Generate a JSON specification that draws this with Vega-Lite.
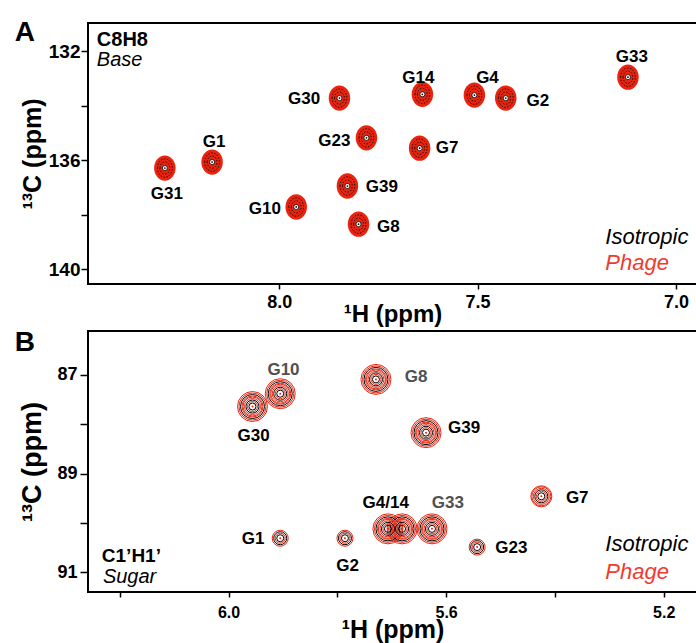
{
  "$schema": "https://vega.github.io/schema/vega-lite/v6.json",
  "background": "white",
  "padding": {"left": 13, "top": 18, "right": 0, "bottom": 0},
  "spacing": 0,
  "config": {
    "view": {"stroke": "black", "strokeWidth": 2},
    "axis": {"domain": false, "grid": false, "tickColor": "black", "tickWidth": 1.5, "labelColor": "black", "titleColor": "black", "labelFont": "Liberation Sans", "titleFont": "Liberation Sans", "labelFontWeight": "bold", "titleFontWeight": "bold"},
    "text": {"font": "Liberation Sans"}
  },
  "datasets": {
    "peaksA": [
      {"peak": "G31", "h": 8.288, "c": 136.29},
      {"peak": "G1", "h": 8.169, "c": 136.07},
      {"peak": "G10", "h": 7.957, "c": 137.72},
      {"peak": "G30", "h": 7.848, "c": 133.72},
      {"peak": "G23", "h": 7.780, "c": 135.18},
      {"peak": "G39", "h": 7.828, "c": 136.95},
      {"peak": "G8", "h": 7.800, "c": 138.35},
      {"peak": "G14", "h": 7.639, "c": 133.58},
      {"peak": "G7", "h": 7.646, "c": 135.56},
      {"peak": "G4", "h": 7.508, "c": 133.61},
      {"peak": "G2", "h": 7.429, "c": 133.72},
      {"peak": "G33", "h": 7.121, "c": 132.95}
    ],
    "labelsA": [
      {"label": "G31", "h": 8.283, "c": 137.25},
      {"label": "G1", "h": 8.164, "c": 135.33},
      {"label": "G10", "h": 8.036, "c": 137.81},
      {"label": "G30", "h": 7.937, "c": 133.77},
      {"label": "G23", "h": 7.861, "c": 135.30},
      {"label": "G39", "h": 7.741, "c": 136.97},
      {"label": "G8", "h": 7.725, "c": 138.47},
      {"label": "G14", "h": 7.649, "c": 132.98},
      {"label": "G7", "h": 7.577, "c": 135.55},
      {"label": "G4", "h": 7.475, "c": 132.98},
      {"label": "G2", "h": 7.348, "c": 133.83},
      {"label": "G33", "h": 7.111, "c": 132.21}
    ],
    "peaksB": [
      {"peak": "G30", "h": 5.956, "c": 87.64, "intensity": 3},
      {"peak": "G10", "h": 5.905, "c": 87.38, "intensity": 3},
      {"peak": "G1", "h": 5.905, "c": 90.31, "intensity": 1},
      {"peak": "G2", "h": 5.786, "c": 90.31, "intensity": 1},
      {"peak": "G8", "h": 5.729, "c": 87.09, "intensity": 3},
      {"peak": "G39", "h": 5.637, "c": 88.17, "intensity": 3},
      {"peak": "G4", "h": 5.707, "c": 90.12, "intensity": 3},
      {"peak": "G14", "h": 5.681, "c": 90.12, "intensity": 3},
      {"peak": "G33", "h": 5.626, "c": 90.12, "intensity": 3},
      {"peak": "G23", "h": 5.543, "c": 90.49, "intensity": 1},
      {"peak": "G7", "h": 5.425, "c": 89.46, "intensity": 2}
    ],
    "labelsB": [
      {"label": "G10", "h": 5.899, "c": 86.905, "tone": "muted"},
      {"label": "G30", "h": 5.954, "c": 88.24, "tone": "normal"},
      {"label": "G1", "h": 5.955, "c": 90.33, "tone": "normal"},
      {"label": "G2", "h": 5.781, "c": 90.87, "tone": "normal"},
      {"label": "G8", "h": 5.655, "c": 87.05, "tone": "muted"},
      {"label": "G39", "h": 5.567, "c": 88.08, "tone": "normal"},
      {"label": "G4/14", "h": 5.711, "c": 89.60, "tone": "normal"},
      {"label": "G33", "h": 5.597, "c": 89.60, "tone": "muted"},
      {"label": "G23", "h": 5.480, "c": 90.51, "tone": "normal"},
      {"label": "G7", "h": 5.359, "c": 89.50, "tone": "normal"}
    ]
  },
  "vconcat": [
    {
      "width": 609,
      "height": 261,
      "encoding": {
        "x": {"field": "h", "type": "quantitative", "scale": {"domain": [6.947, 8.4817], "reverse": true, "nice": false, "zero": false},
              "axis": {"values": [8.0, 7.5, 7.0], "format": ".1f", "title": "¹H (ppm)", "titleFontSize": 24, "titleY": 18, "labelFontSize": 18, "tickSize": 5, "labelPadding": 4}},
        "y": {"field": "c", "type": "quantitative", "scale": {"domain": [130.96, 140.55], "reverse": true, "nice": false, "zero": false},
              "axis": {"values": [132, 134, 136, 138, 140], "labelExpr": "datum.value % 4 == 0 ? datum.label : ''", "title": "¹³C (ppm)", "titleFontSize": 25, "titleX": -43, "labelFontSize": 19, "tickSize": 7, "labelPadding": 1}}
      },
      "layer": [
        {"data": {"name": "peaksA"}, "mark": {"type": "point", "shape": "M-0.85,0A0.85,1,0,1,1,0.85,0A0.85,1,0,1,1,-0.85,0Z", "size": 640, "filled": true, "color": "#e8240f", "strokeWidth": 0, "opacity": 1}},
        {"data": {"name": "peaksA"}, "mark": {"type": "point", "shape": "M-0.8,0A0.8,1,0,1,1,0.8,0A0.8,1,0,1,1,-0.8,0Z", "size": 340, "filled": false, "color": "black", "strokeWidth": 0.8, "strokeDash": [1.5, 1.5], "opacity": 1}},
        {"data": {"name": "peaksA"}, "mark": {"type": "point", "shape": "M-0.8,0A0.8,1,0,1,1,0.8,0A0.8,1,0,1,1,-0.8,0Z", "size": 150, "filled": false, "color": "black", "strokeWidth": 0.8, "strokeDash": [1.5, 1.5], "opacity": 1}},
        {"data": {"name": "peaksA"}, "mark": {"type": "point", "shape": "circle", "size": 26, "filled": true, "fill": "white", "stroke": "black", "strokeWidth": 0.8, "opacity": 1}},
        {"data": {"name": "peaksA"}, "mark": {"type": "point", "shape": "circle", "size": 3, "filled": true, "color": "black", "opacity": 1}},
        {"data": {"name": "labelsA"}, "mark": {"type": "text", "fontSize": 17, "fontWeight": "bold", "color": "black"}, "encoding": {"text": {"field": "label"}}},
        {"data": {"values": [{"t": "A", "h": 8.666, "c": 130.82}]}, "mark": {"type": "text", "fontSize": 28, "fontWeight": "bold", "align": "left", "baseline": "top", "color": "black"}, "encoding": {"text": {"field": "t"}}},
        {"data": {"values": [{"t": "C8H8", "h": 8.4595, "c": 131.79}]}, "mark": {"type": "text", "fontSize": 20, "fontWeight": "bold", "align": "left", "baseline": "alphabetic", "color": "black"}, "encoding": {"text": {"field": "t"}}},
        {"data": {"values": [{"t": "Base", "h": 8.4595, "c": 132.55}]}, "mark": {"type": "text", "fontSize": 20, "fontStyle": "italic", "align": "left", "baseline": "alphabetic", "color": "black"}, "encoding": {"text": {"field": "t"}}},
        {"data": {"values": [{"t": "Isotropic", "h": 7.178, "c": 139.07}]}, "mark": {"type": "text", "fontSize": 22, "fontStyle": "italic", "align": "left", "baseline": "alphabetic", "color": "black"}, "encoding": {"text": {"field": "t"}}},
        {"data": {"values": [{"t": "Phage", "h": 7.178, "c": 140.04}]}, "mark": {"type": "text", "fontSize": 22, "fontStyle": "italic", "align": "left", "baseline": "alphabetic", "color": "#f03a2e"}, "encoding": {"text": {"field": "t"}}}
      ]
    },
    {
      "width": 609,
      "height": 261,
      "encoding": {
        "x": {"field": "h", "type": "quantitative", "scale": {"domain": [5.1388, 6.2584], "reverse": true, "nice": false, "zero": false},
              "axis": {"values": [6.2, 6.0, 5.8, 5.6, 5.4, 5.2], "format": ".1f", "labelExpr": "(datum.label == '6.0' || datum.label == '5.6' || datum.label == '5.2') ? datum.label : ''", "title": "¹H (ppm)", "titleFontSize": 25, "titleY": 25, "labelFontSize": 16, "tickSize": 5, "labelPadding": 7}},
        "y": {"field": "c", "type": "quantitative", "scale": {"domain": [86.109, 91.40], "reverse": true, "nice": false, "zero": false},
              "axis": {"values": [87, 88, 89, 90, 91], "labelExpr": "datum.value % 2 == 1 ? datum.label : ''", "title": "¹³C (ppm)", "titleFontSize": 27, "titleX": -42, "labelFontSize": 18, "tickSize": 8, "labelPadding": 3}}
      },
      "layer": [
        {"data": {"name": "peaksB"}, "transform": [{"filter": "datum.intensity >= 3"}], "mark": {"type": "point", "shape": "circle", "size": 900, "filled": false, "color": "#e8240f", "strokeWidth": 1, "opacity": 1}},
        {"data": {"name": "peaksB"}, "transform": [{"filter": "datum.intensity >= 3"}], "mark": {"type": "point", "shape": "circle", "size": 729, "filled": false, "color": "#e8240f", "strokeWidth": 1, "opacity": 1}},
        {"data": {"name": "peaksB"}, "transform": [{"filter": "datum.intensity >= 3"}], "mark": {"type": "point", "shape": "circle", "size": 576, "filled": false, "color": "black", "strokeWidth": 1, "opacity": 1}},
        {"data": {"name": "peaksB"}, "transform": [{"filter": "datum.intensity >= 2"}], "mark": {"type": "point", "shape": "circle", "size": 441, "filled": false, "color": "#e8240f", "strokeWidth": 1, "opacity": 1}},
        {"data": {"name": "peaksB"}, "transform": [{"filter": "datum.intensity >= 2"}], "mark": {"type": "point", "shape": "circle", "size": 361, "filled": false, "color": "#e8240f", "strokeWidth": 1, "opacity": 1}},
        {"data": {"name": "peaksB"}, "mark": {"type": "point", "shape": "circle", "size": 256, "filled": false, "color": "#e8240f", "strokeWidth": 1, "opacity": 1}},
        {"data": {"name": "peaksB"}, "mark": {"type": "point", "shape": "circle", "size": 169, "filled": false, "color": "black", "strokeWidth": 1, "opacity": 1}},
        {"data": {"name": "peaksB"}, "mark": {"type": "point", "shape": "circle", "size": 100, "filled": false, "color": "#e8240f", "strokeWidth": 1, "opacity": 1}},
        {"data": {"name": "peaksB"}, "mark": {"type": "point", "shape": "circle", "size": 49, "filled": false, "color": "black", "strokeWidth": 1, "opacity": 1}},
        {"data": {"name": "peaksB"}, "mark": {"type": "point", "shape": "circle", "size": 4, "filled": true, "color": "#e8240f", "opacity": 1}},
        {"data": {"name": "labelsB"}, "mark": {"type": "text", "fontSize": 17, "fontWeight": "bold"}, "encoding": {"text": {"field": "label"}, "color": {"field": "tone", "type": "nominal", "scale": {"domain": ["normal", "muted"], "range": ["#000000", "#505050"]}, "legend": null}}},
        {"data": {"values": [{"t": "B", "h": 6.393, "c": 86.067}]}, "mark": {"type": "text", "fontSize": 28, "fontWeight": "bold", "align": "left", "baseline": "top", "color": "black"}, "encoding": {"text": {"field": "t"}}},
        {"data": {"values": [{"t": "C1’H1’", "h": 6.233, "c": 90.80}]}, "mark": {"type": "text", "fontSize": 19, "fontWeight": "bold", "align": "left", "baseline": "alphabetic", "color": "black"}, "encoding": {"text": {"field": "t"}}},
        {"data": {"values": [{"t": "Sugar", "h": 6.231, "c": 91.22}]}, "mark": {"type": "text", "fontSize": 20, "fontStyle": "italic", "align": "left", "baseline": "alphabetic", "color": "black"}, "encoding": {"text": {"field": "t"}}},
        {"data": {"values": [{"t": "Isotropic", "h": 5.3074, "c": 90.575}]}, "mark": {"type": "text", "fontSize": 22, "fontStyle": "italic", "align": "left", "baseline": "alphabetic", "color": "black"}, "encoding": {"text": {"field": "t"}}},
        {"data": {"values": [{"t": "Phage", "h": 5.3074, "c": 91.14}]}, "mark": {"type": "text", "fontSize": 22, "fontStyle": "italic", "align": "left", "baseline": "alphabetic", "color": "#f03a2e"}, "encoding": {"text": {"field": "t"}}}
      ]
    }
  ]
}
